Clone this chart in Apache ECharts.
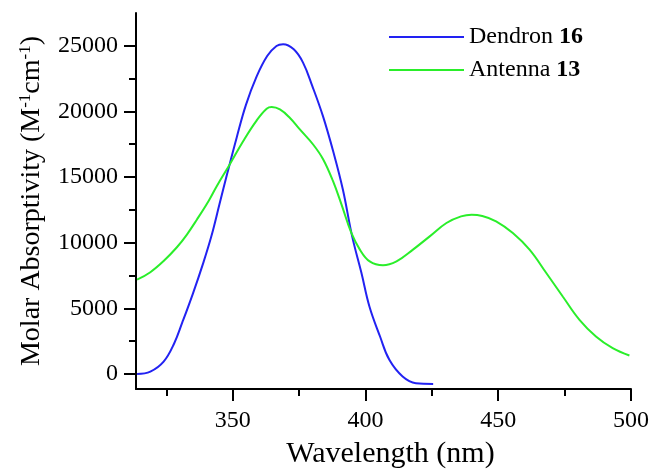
<!DOCTYPE html>
<html>
<head>
<meta charset="utf-8">
<script src="https://cdn.jsdelivr.net/npm/echarts@6/dist/echarts.min.js"></script>
<style>html,body{margin:0;padding:0;background:#fff}#c{width:649px;height:469px}</style>
</head>
<body>
<div id="c"></div>
<script>
// Data
const dendronName = 'Dendron 16';
const antennaName = 'Antenna 13';
const dendronWavelength = [314,319,324,328,331,335,339,342,345,348,351.5,355,359,363,366.5,369,373,376.5,380,384,388,391.5,395,398.5,401.5,405.5,409,414,419,425.5];
const dendronAbs = [0,180,940,2340,3900,6100,8500,10500,12900,15300,18000,20500,22650,24220,24990,25120,24730,23720,21930,19640,16850,14050,10480,7690,5140,2850,1070,-200,-710,-760];
const antennaWavelength = [314,319,324,329,332.7,336.5,341,344,349,354,359,362.8,364.7,367.8,371.5,375.3,380.3,384.1,387.8,391,394.7,397.9,401.6,406.6,411.7,417.9,424.2,430.5,436,440,444,449.2,455.5,461.8,468.1,474.3,480.6,486.8,493.1,499.4];
const antennaAbs = [7180,7750,8600,9650,10600,11750,13200,14300,16000,17750,19300,20200,20330,20150,19520,18630,17480,16340,14680,12900,10740,9470,8570,8270,8570,9470,10480,11500,12000,12130,12030,11630,10740,9470,7690,5900,4120,2850,1960,1400];
const xMajorTicks = [350,400,450,500];
const xMinorTicks = [325,375,425,475];
const yMajorTicks = [0,5000,10000,15000,20000,25000];
const yMinorTicks = [2500,7500,12500,17500,22500];

const FONT = '"Liberation Serif", "DejaVu Serif", serif';
const xMin = 313.6, xMax = 500, yMin = -1150, yMax = 27500;

function pairs(xs, ys){ return xs.map((x,i)=>[x, ys[i]]); }

const chart = echarts.init(document.getElementById('c'), null, {renderer:'canvas'});
const axisLine = {show:true, onZero:false, lineStyle:{color:'#000', width:2}};
chart.setOption({
  animation:false,
  backgroundColor:'#fff',
  grid:{left:136, right:18, top:13, bottom:80, containLabel:false, outerBoundsMode:'none'},
  legend:{
    orient:'vertical', left:389, top:25, padding:0,
    icon:'rect', itemWidth:75, itemHeight:2, itemGap:9,
    data:[dendronName, antennaName],
    formatter: n => n.replace(/(\d+)$/, '{b|$1}'),
    textStyle:{fontFamily:FONT, fontSize:24, color:'#000',
      rich:{b:{fontFamily:FONT, fontSize:24, fontWeight:'bold', color:'#000'}}}
  },
  xAxis:[{
    type:'value', min:xMin, max:xMax, position:'bottom',
    axisLine:axisLine,
    axisTick:{show:true, inside:false, length:12, customValues:xMajorTicks, lineStyle:{color:'#000', width:2}},
    axisLabel:{show:true, customValues:xMajorTicks, margin:20, fontFamily:FONT, fontSize:24, color:'#000', formatter:v=>String(v)},
    splitLine:{show:false},
    name:'Wavelength (nm)', nameLocation:'middle', nameGap:50,
    nameTextStyle:{fontFamily:FONT, fontSize:30, color:'#000', padding:[0,0,0,14]}
  },{
    type:'value', min:xMin, max:xMax, position:'bottom',
    axisLine:{show:false, onZero:false},
    axisTick:{show:true, inside:false, length:7, customValues:xMinorTicks, lineStyle:{color:'#000', width:2}},
    axisLabel:{show:false}, splitLine:{show:false}
  }],
  yAxis:[{
    type:'value', min:yMin, max:yMax, position:'left',
    axisLine:axisLine,
    axisTick:{show:true, inside:false, length:12, customValues:yMajorTicks, lineStyle:{color:'#000', width:2}},
    axisLabel:{show:true, customValues:yMajorTicks, margin:18, fontFamily:FONT, fontSize:24, color:'#000', formatter:v=>String(v)},
    splitLine:{show:false},
    name:'Molar Absorptivity (M{s|-1}cm{s|-1})', nameLocation:'middle', nameGap:89, nameRotate:90,
    nameTextStyle:{fontFamily:FONT, fontSize:28, color:'#000', lineHeight:30,
      rich:{s:{fontFamily:FONT, fontSize:17, color:'#000', verticalAlign:'top', lineHeight:30}}}
  },{
    type:'value', min:yMin, max:yMax, position:'left',
    axisLine:{show:false, onZero:false},
    axisTick:{show:true, inside:false, length:7, customValues:yMinorTicks, lineStyle:{color:'#000', width:2}},
    axisLabel:{show:false}, splitLine:{show:false}
  }],
  series:[{
    name:dendronName, type:'line', xAxisIndex:0, yAxisIndex:0,
    data:pairs(dendronWavelength, dendronAbs),
    symbol:'none', smooth:0.4,
    lineStyle:{color:'#2222f2', width:2}, itemStyle:{color:'#2222f2'}
  },{
    name:antennaName, type:'line', xAxisIndex:0, yAxisIndex:0,
    data:pairs(antennaWavelength, antennaAbs),
    symbol:'none', smooth:0.4,
    lineStyle:{color:'#2aee2a', width:2}, itemStyle:{color:'#2aee2a'}
  }]
});
</script>
</body>
</html>
